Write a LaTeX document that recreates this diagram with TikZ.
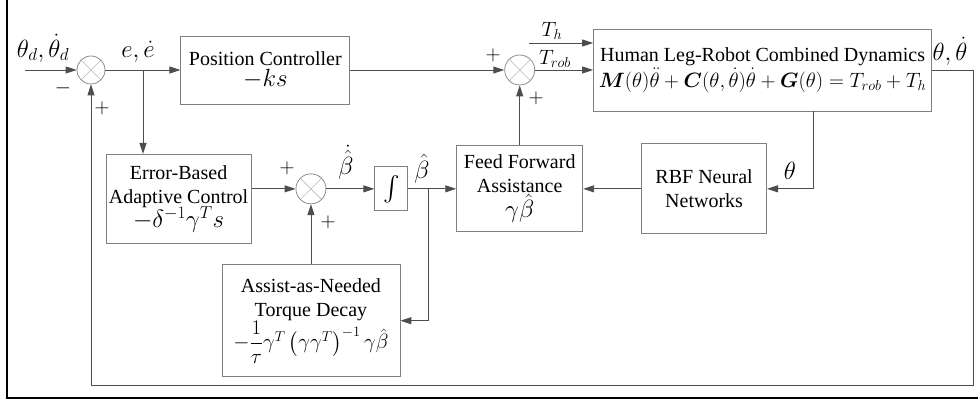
\documentclass[tikz,border=0pt]{standalone}
\usepackage{amsmath}
\usepackage{fontspec}
\setmainfont{Liberation Serif}
\usetikzlibrary{positioning,arrows.meta,calc}
\definecolor{lineC}{HTML}{4D4D4D}
\definecolor{boxC}{HTML}{808080}
\definecolor{sumC}{HTML}{8C8C8C}
\newcommand{\fsz}[2]{\fontsize{#1}{#2}\selectfont}

\begin{document}
\begin{tikzpicture}[
  x=1pt, y=-1pt,
  >={Triangle[length=11pt,width=7pt]},
  every node/.style={text=black},
  block/.style={draw=boxC, line width=0.9pt, inner sep=2pt,
                align=center, font=\fsz{20}{24}},
  sumnode/.style={circle, draw=sumC, line width=0.8pt, minimum size=28pt,
                  inner sep=0pt,
                  path picture={\draw[sumC!60, line width=0.6pt]
                    (path picture bounding box.north west) -- (path picture bounding box.south east)
                    (path picture bounding box.north east) -- (path picture bounding box.south west);}},
  conn/.style={draw=lineC, line width=0.9pt},
  sig/.style={font=\fsz{26}{26}, inner sep=0pt},
  sign/.style={font=\fsz{20}{20}, inner sep=0pt},
]
\useasboundingbox (0,0) rectangle (978,406);

% -- figure frame --
\draw[line width=2.5pt] (7,0) |- (978,398);

% -- forward path --
\node[sumnode] (sum1) at (91,70) {};
\node[block, minimum width=169pt, minimum height=68pt, right=75pt of sum1] (pos)
  {Position Controller\\[-3pt]{\fsz{26}{26}$-ks$}};
\node[sumnode, minimum size=30pt, right=154pt of pos] (sum3) {};
\node[block, minimum width=338pt, minimum height=82pt, right=58pt of sum3] (dyn)
  {Human Leg-Robot Combined Dynamics\\[2pt]
   $\boldsymbol{M}(\theta)\ddot{\theta}+\boldsymbol{C}(\theta,\dot{\theta})\dot{\theta}
    +\boldsymbol{G}(\theta)=T_{rob}+T_{h}$};

% -- adaptive part --
\node[block, minimum width=126pt, minimum height=86pt, below=60pt of sum3] (ff)
  {Feed Forward\\Assistance\\{\fsz{24}{24}$\gamma\hat{\beta}$}};
\node[block, minimum width=125pt, minimum height=90pt, right=58pt of ff] (rbf)
  {RBF Neural\\Networks};
\node[block, minimum width=33pt, minimum height=44pt, left=48pt of ff] (integ)
  {\fsz{24}{24}$\int$};
\node[sumnode, minimum size=30pt, left=48pt of integ] (sum2) {};
\node[block, minimum width=145pt, minimum height=89pt, left=44pt of sum2, yshift=-10pt] (err)
  {Error-Based\\Adaptive Control\\[-2pt]{\fsz{26}{26}$-\delta^{-1}\gamma^{T}s$}};
\node[block, minimum width=178pt, minimum height=112pt, below=60pt of sum2] (assist)
  {Assist-as-Needed\\Torque Decay\\
   {\fsz{22}{22}$-\dfrac{1}{\tau}\gamma^{T}\left(\gamma\gamma^{T}\right)^{-1}\gamma\hat{\beta}$}};

% -- free ends and branch points --
\coordinate (in) at (25,70);
\coordinate (eb) at (143,70);
\coordinate (bb) at (428,188);
\coordinate (th) at (529,43);
\coordinate (fb) at (973,385);

% -- connectors --
\draw[conn,->] (in) -- (sum1);
\draw[conn,->] (sum1) -- (pos);
\draw[conn,->] (eb) -- (eb |- err.north);
\draw[conn,->] (pos) -- (sum3);
\draw[conn,->] (sum3) -- (dyn);
\draw[conn,->] (th) -- (th -| dyn.west);
\draw[conn,->] (dyn.east) -| (fb) -| (sum1);
\draw[conn,->] ([xshift=51pt]dyn.south) |- (rbf);
\draw[conn,->] (rbf) -- (ff);
\draw[conn,->] (ff) -- (sum3);
\draw[conn,->] (err.east |- sum2) -- (sum2);
\draw[conn,->] (sum2) -- (integ);
\draw[conn,->] (integ) -- (ff);
\draw[conn,->] (bb) |- (assist);
\draw[conn,->] (assist) -- (sum2);

% -- signal labels --
\node[sig] (thd) at (43,48) {$\theta_{d},\dot{\theta}_{d}$};
\node[sig, font=\fsz{32}{32}] (elbl) at (138,52) {$e,\dot{e}$};
\node[sig, font=\fsz{22}{22}] (thlbl) at (552,31) {$T_{h}$};
\node[sig, font=\fsz{22}{22}] (trob) at (555,59) {$T_{rob}$};
\node[sig] (yout) at (950,51) {$\theta,\dot{\theta}$};
\node[sig] (thfb) at (790,171) {$\theta$};
\node[sig, font=\fsz{24}{24}] (bdot) at (346,162) {$\dot{\hat{\beta}}$};
\node[sig, font=\fsz{24}{24}] (bhat) at (422,169) {$\hat{\beta}$};

% -- signs --
\node[sign] (s1m) at (63,88) {$-$};
\node[sign] (s1p) at (102,108) {$+$};
\node[sign] (s2a) at (287,168) {$+$};
\node[sign] (s2b) at (328,222) {$+$};
\node[sign] (s3a) at (493,55) {$+$};
\node[sign] (s3b) at (536,98) {$+$};

\end{tikzpicture}
\end{document}
